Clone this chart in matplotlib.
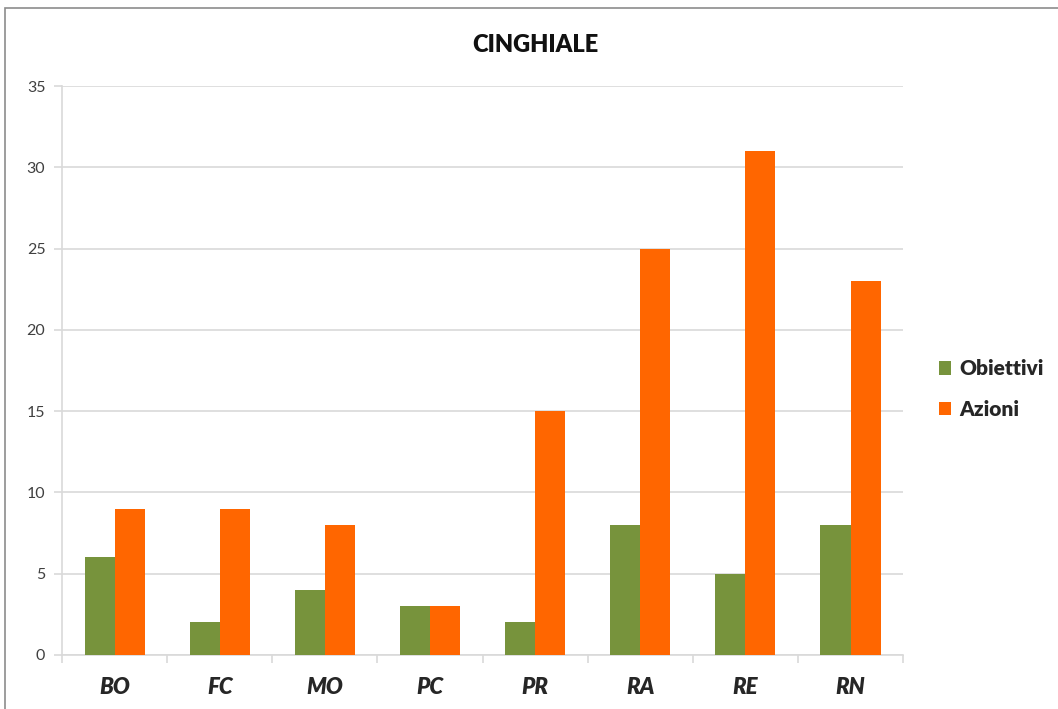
import numpy as np
import matplotlib.pyplot as plt
from matplotlib.patches import Rectangle

province = ['BO', 'FC', 'MO', 'PC', 'PR', 'RA', 'RE', 'RN']
obiettivi = [6, 2, 4, 3, 2, 8, 5, 8]
azioni = [9, 9, 8, 3, 15, 25, 31, 23]

verde = '#77933C'
arancio = '#FF6600'
griglia = '#D9D9D9'

plt.rcParams['font.family'] = ['Lato', 'DejaVu Sans']

fig = plt.figure(figsize=(10.58, 7.09), dpi=100)
ax = fig.add_axes([0.0586, 0.0762, 0.795, 0.8025])

# cornice del grafico (solo bordo sopra e a sinistra visibili)
fig.patches.append(Rectangle((0.0045, -0.1), 1.2, 1.0887, transform=fig.transFigure,
                             fill=False, edgecolor='#8C8C8C', linewidth=1.2))

x = np.arange(len(province))
w = 1 / 3.5
ax.bar(x - w / 2, obiettivi, w, color=verde, label='Obiettivi', zorder=3)
ax.bar(x + w / 2, azioni, w, color=arancio, label='Azioni', zorder=3)

ax.set_xlim(-0.5, len(province) - 0.5)
ax.set_ylim(0, 35)
ax.set_yticks(range(0, 36, 5))
ax.yaxis.grid(True, color=griglia, linewidth=1.2, zorder=0)

for s in ['top', 'right']:
    ax.spines[s].set_visible(False)
ax.spines['left'].set_color(griglia)
ax.spines['bottom'].set_color(griglia)
ax.spines['left'].set_linewidth(1.2)
ax.spines['bottom'].set_linewidth(1.2)

ax.set_xticks(np.arange(-0.5, len(province), 1), minor=False)
ax.set_xticklabels([])
ax.set_xticks(x, minor=True)
ax.set_xticklabels(province, minor=True, fontsize=16, fontweight='heavy', fontstyle='italic', color='#262626')
ax.tick_params(axis='x', which='major', length=6, color=griglia, width=1.2)
ax.tick_params(axis='x', which='minor', length=0, pad=16)
ax.tick_params(axis='y', length=6, color=griglia, width=1.2, labelsize=11.5, labelcolor='#404040', pad=6)

fig.text(0.506, 0.937, 'CINGHIALE', fontsize=17, fontweight='heavy', color='#111111',
         ha='center', va='center')

leg = ax.legend(loc='center left', bbox_to_anchor=(1.02, 0.467), frameon=False,
                prop={'size': 15, 'weight': 'heavy'}, handlelength=0.6, handleheight=0.6,
                handletextpad=0.4, labelspacing=1.05)
for t in leg.get_texts():
    t.set_color('#262626')

fig.savefig('out.png', dpi=100)
